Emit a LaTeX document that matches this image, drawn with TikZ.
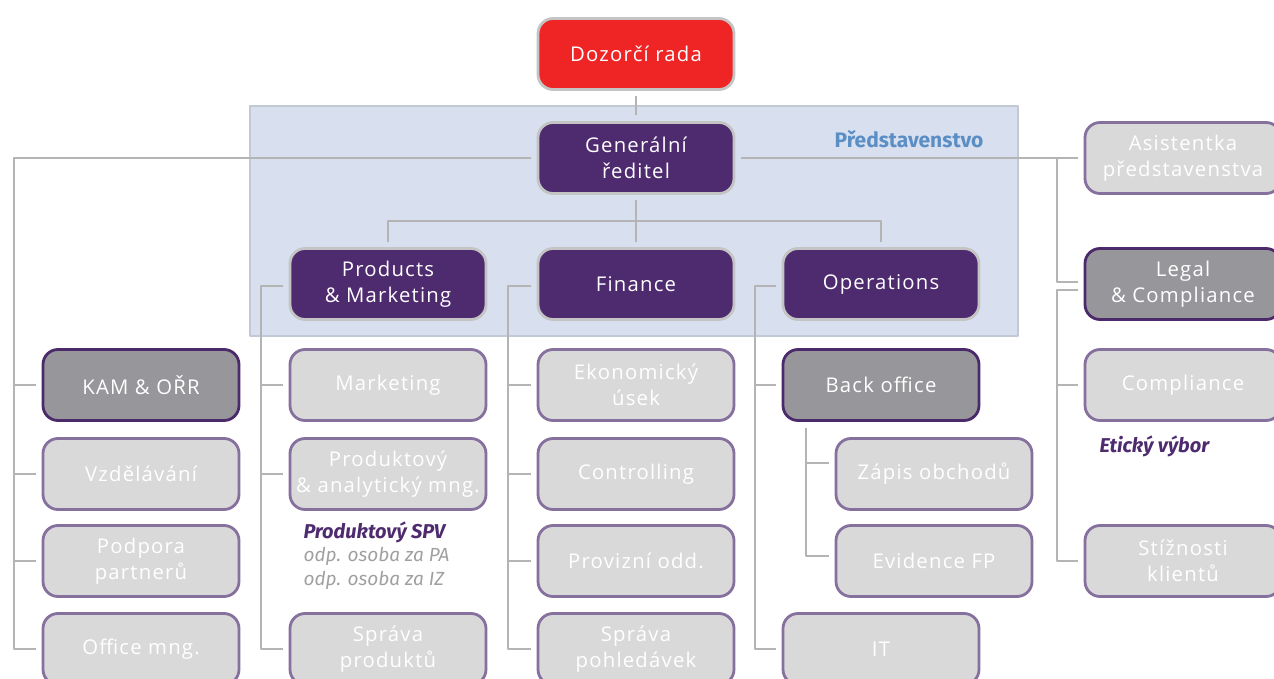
\documentclass[tikz,border=0pt]{standalone}
\usepackage{fontspec}
\setmainfont{Open Sans}[LetterSpace=6]
\newfontfamily\notefont{Fira Sans}
\definecolor{linegrey}{HTML}{B4B4B4}
\definecolor{boardfill}{HTML}{D8E0EF}
\definecolor{boardline}{HTML}{C3C9D4}
\definecolor{radared}{HTML}{EE2524}
\definecolor{topline}{HTML}{C4C4C4}
\definecolor{mgmtpurple}{HTML}{4E2A6F}
\definecolor{headgrey}{HTML}{97979B}
\definecolor{headline}{HTML}{4B2A6B}
\definecolor{unitfill}{HTML}{D9D9D9}
\definecolor{unitline}{HTML}{86709E}
\definecolor{boardblue}{HTML}{5A8EC5}
\definecolor{notegrey}{HTML}{A0A0A0}
\begin{document}
\begin{tikzpicture}[x=1pt,y=-1pt, font=\fontsize{20.3}{26}\selectfont, line join=round, line cap=butt,
box/.style={rounded corners=15pt, minimum width=196pt, minimum height=71pt, line width=2.8pt, align=center, text=white, outer sep=7pt},
rada/.style={box, fill=radared, draw=topline},
mgmt/.style={box, fill=mgmtpurple, draw=topline},
head/.style={box, fill=headgrey, draw=headline},
unit/.style={box, fill=unitfill, draw=unitline},
link/.style={draw=linegrey, line width=2.8pt},
note/.style={font=\notefont\itshape\fontsize{19}{23.5}\selectfont, align=left, anchor=north west}]
\useasboundingbox (0,0) rectangle (1274,679);
\draw[fill=boardfill, draw=boardline, line width=2pt] (250,106) rectangle (1018,336);
\node[font=\notefont\bfseries\fontsize{21}{24}\selectfont, text=boardblue] (boardlbl) at (909,139) {Představenstvo};
\node[rada] (dr) at (636,54) {Dozorčí rada};
\node[mgmt] (gr) at (636,158) {Generální\\ředitel};
\node[mgmt] (pm) at (388,284) {Products\\\& Marketing};
\node[mgmt] (fin) at (636,284) {Finance};
\node[mgmt] (ops) at (881,284) {Operations};
\node[unit] (asist) at (1183,158) {Asistentka\\představenstva};
\node[head] (legal) at (1183,284) {Legal\\\& Compliance};
\node[unit] (compl) at (1183,385) {Compliance};
\node[unit] (stiz) at (1183,561) {Stížnosti\\klientů};
\node[head] (kam) at (141,385) {KAM \& OŘR};
\node[unit] (vzd) at (141,474) {Vzdělávání};
\node[unit] (podp) at (141,561) {Podpora\\partnerů};
\node[unit] (office) at (141,649) {Office mng.};
\node[unit] (mkt) at (388,385) {Marketing};
\node[unit] (prodm) at (388,474) {Produktový\\\& analytický mng.};
\node[unit] (sprp) at (388,649) {Správa\\produktů};
\node[unit] (eko) at (636,385) {Ekonomický\\úsek};
\node[unit] (ctrl) at (636,474) {Controlling};
\node[unit] (prov) at (636,561) {Provizní odd.};
\node[unit] (sprpo) at (636,649) {Správa\\pohledávek};
\node[head] (back) at (881,385) {Back office};
\node[unit] (zapis) at (934,474) {Zápis obchodů};
\node[unit] (evid) at (934,561) {Evidence FP};
\node[unit] (it) at (881,649) {IT};
\node[note] (spv) at (300,518) {{\bfseries\fontsize{20}{23.5}\selectfont\color{mgmtpurple}Produktový SPV}\\{\color{notegrey}odp. osoba za PA}\\{\color{notegrey}odp. osoba za IZ}};
\node[note, font=\notefont\itshape\bfseries\fontsize{20}{22}\selectfont, text=mgmtpurple, anchor=west] (etic) at (1096,446) {Etický výbor};
\coordinate (t1) at (14,0);
\coordinate (t2) at (261,0);
\coordinate (t3) at (508,0);
\coordinate (t4) at (755,0);
\coordinate (t5) at (806,0);
\coordinate (t6) at (1057,0);
\coordinate (bus) at (636,221);
\coordinate (pmin) at ([yshift=-2pt]pm.west);
\coordinate (finin) at ([yshift=-2pt]fin.west);
\coordinate (opsin) at ([yshift=-2pt]ops.west);
\coordinate (zapin) at ([yshift=11pt]zapis.west);
\coordinate (evidin) at ([yshift=5pt]evid.west);
\coordinate (legalin) at ([yshift=2pt]legal.west);
\coordinate (legalout) at ([yshift=-6pt]legal.west);
\draw[link] (dr) -- (gr);
\draw[link] (gr) -- (fin);
\draw[link] (pm.north) |- (bus) -| (ops.north);
\draw[link] (gr.west) -| (t1 |- office) -- (office.west);
\foreach \n in {kam,vzd,podp} \draw[link] (t1 |- \n) -- (\n.west);
\draw[link] (pmin) -| (t2 |- sprp) -- (sprp.west);
\foreach \n in {mkt,prodm} \draw[link] (t2 |- \n) -- (\n.west);
\draw[link] (finin) -| (t3 |- sprpo) -- (sprpo.west);
\foreach \n in {eko,ctrl,prov} \draw[link] (t3 |- \n) -- (\n.west);
\draw[link] (opsin) -| (t4 |- it) -- (it.west);
\draw[link] (t4 |- back) -- (back.west);
\draw[link] (t5 |- back.south) -- (t5 |- evidin) -- (evidin);
\draw[link] (t5 |- zapin) -- (zapin);
\draw[link] (gr.east) -- (asist.west);
\draw[link] (t6 |- gr) |- (legalin);
\draw[link] (legalout) -| (t6 |- stiz) -- (stiz.west);
\draw[link] (t6 |- compl) -- (compl.west);
\end{tikzpicture}
\end{document}
